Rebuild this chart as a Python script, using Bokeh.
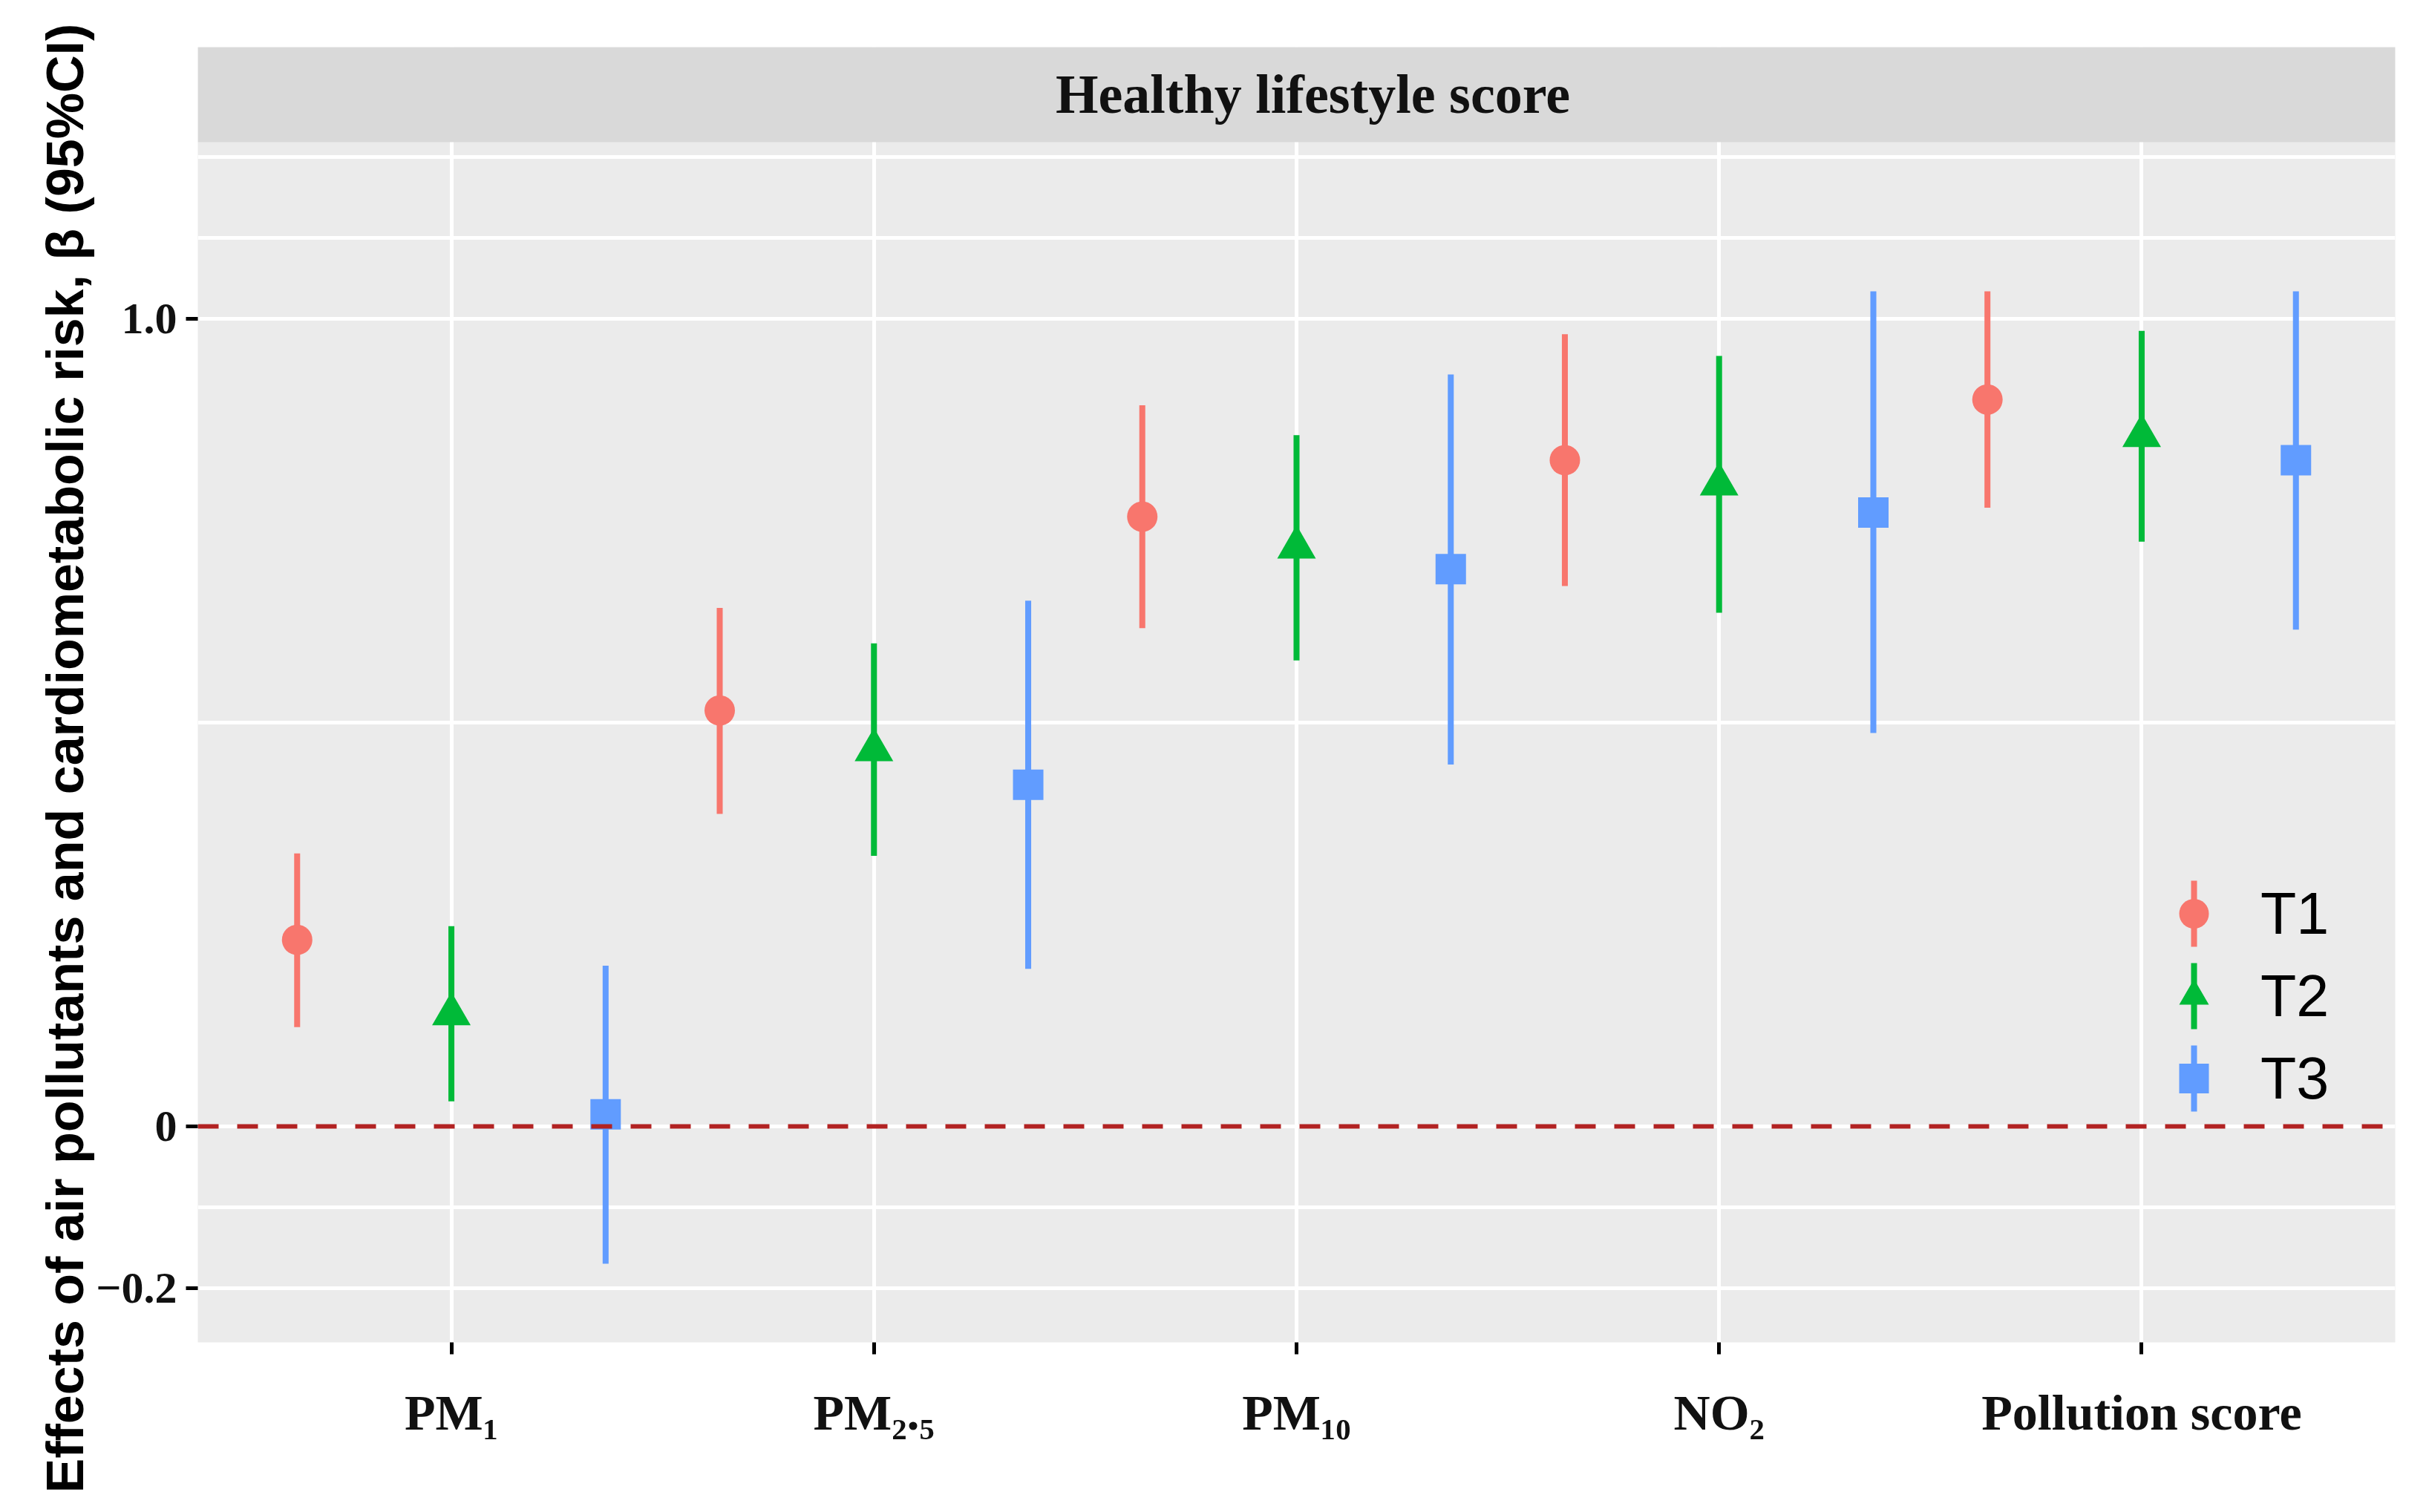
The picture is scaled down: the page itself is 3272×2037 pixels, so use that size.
from bokeh.plotting import figure
from bokeh.models import (Range1d, FixedTicker, Span, BoxAnnotation, Label,
                          Legend, LegendItem, Title, ColumnDataSource)
from bokeh.embed import file_html
from bokeh.resources import INLINE

# ---------------- data ----------------
categories = ["PM₁", "PM₂.₅", "PM₁₀", "NO₂", "Pollution score"]
groups = ["T1", "T2", "T3"]

t1_beta = [0.231, 0.515, 0.755, 0.825, 0.900]
t1_low = [0.123, 0.387, 0.617, 0.669, 0.766]
t1_high = [0.338, 0.642, 0.893, 0.981, 1.034]

t2_beta = [0.139, 0.466, 0.717, 0.795, 0.855]
t2_low = [0.031, 0.335, 0.577, 0.636, 0.724]
t2_high = [0.248, 0.598, 0.856, 0.954, 0.985]

t3_beta = [0.015, 0.423, 0.690, 0.760, 0.825]
t3_low = [-0.170, 0.195, 0.448, 0.487, 0.615]
t3_high = [0.199, 0.651, 0.931, 1.034, 1.034]

y_ticks = [-0.2, 0, 1.0]
y_tick_labels = ["−0.2", "0", "1.0"]
y_grid = [-0.2, -0.1, 0, 0.5, 1.0, 1.1, 1.2]

strip_title = "Healthy lifestyle score"
y_title = "Effects of air pollutants and cardiometabolic risk, β (95%CI)"

# ---------------- styling ----------------
colors = ["#F8766D", "#00BA38", "#619CFF"]
markers = ["circle", "triangle", "square"]
marker_sizes = [41, 52, 41]
dodge = [-0.365, 0.0, 0.365]
X_MIN, X_MAX = 0.4, 5.6
Y_MIN, PANEL_TOP, Y_MAX = -0.2675, 1.2188, 1.3364

W, H = 3256, 2020
p = figure(width=W, height=H, output_backend="svg", toolbar_location=None,
           x_range=Range1d(X_MIN, X_MAX), y_range=Range1d(Y_MIN, Y_MAX),
           min_border_left=266, min_border_right=30,
           min_border_top=63, min_border_bottom=212)
p.title.visible = False
p.background_fill_color = "#EBEBEB"
p.border_fill_color = "white"
p.outline_line_color = None

xpos = list(range(1, len(categories) + 1))

# grids
p.xgrid.ticker = FixedTicker(ticks=xpos)
p.ygrid.ticker = FixedTicker(ticks=y_grid)
for g in (p.xgrid, p.ygrid):
    g.grid_line_color = "white"
    g.grid_line_width = 5

# zero reference line
p.add_layout(Span(location=0, dimension="width", line_color="#B22222",
                  line_width=6, line_dash="28 25"))

series = [(t1_beta, t1_low, t1_high), (t2_beta, t2_low, t2_high),
          (t3_beta, t3_low, t3_high)]
bar_renderers, pt_renderers = [], []
for i, (beta, low, high) in enumerate(series):
    xs = [x + dodge[i] for x in xpos]
    src = ColumnDataSource(dict(x=xs, beta=beta, low=low, high=high))
    rb = p.vbar(x="x", top="high", bottom="low", width=0.0141, source=src,
                fill_color=colors[i], line_color=None)
    rp = p.scatter(x="x", y="beta", source=src, marker=markers[i],
                   size=marker_sizes[i], fill_color=colors[i], line_color=None)
    bar_renderers.append(rb)
    pt_renderers.append(rp)

# axes
xa = p.xaxis[0]
xa.ticker = FixedTicker(ticks=xpos)
xa.major_label_overrides = {x: c for x, c in zip(xpos, categories)}
ya = p.yaxis[0]
ya.ticker = FixedTicker(ticks=y_ticks)
ya.major_label_overrides = {t: l for t, l in zip(y_ticks, y_tick_labels)}
for ax in (xa, ya):
    ax.axis_line_color = None
    ax.minor_tick_line_color = None
    ax.major_tick_line_color = "black"
    ax.major_tick_line_width = 5
    ax.major_tick_out = 16
    ax.major_tick_in = 0
    ax.major_label_text_font = "Liberation Serif"
    ax.major_label_text_font_style = "bold"
    ax.major_label_text_color = "#111111"
xa.major_label_text_font_size = "68px"
xa.major_label_standoff = 40
ya.major_label_text_font_size = "60px"
ya.major_label_standoff = 12

# y axis title (as side title so it can be offset like the original)
p.add_layout(Title(text=y_title, align="left", offset=-203,
                   text_font="Liberation Sans", text_font_style="bold",
                   text_font_size="70px", text_color="black", standoff=0), "left")

# facet strip
p.add_layout(BoxAnnotation(bottom=PANEL_TOP, fill_color="#D9D9D9", fill_alpha=1.0,
                           line_alpha=0))
p.add_layout(Label(x=(X_MIN + X_MAX) / 2, y=(PANEL_TOP + Y_MAX) / 2, text=strip_title,
                   x_offset=22, text_align="center", text_baseline="middle",
                   text_font="Liberation Serif", text_font_style="bold",
                   text_font_size="74px", text_color="#111111"))

# legends: one for the vertical interval keys, one for markers + labels
ROW = 111
leg_bottom = 300
key_center = 2689
legA = Legend(items=[LegendItem(label="", renderers=[r]) for r in bar_renderers],
              location=(key_center - 5, leg_bottom), glyph_width=10, glyph_height=ROW,
              label_height=ROW, label_width=0, spacing=0, padding=0, margin=0,
              background_fill_alpha=0, border_line_alpha=0, label_standoff=0)
legB = Legend(items=[LegendItem(label=g, renderers=[r]) for g, r in zip(groups, pt_renderers)],
              location=(key_center - 50, leg_bottom), glyph_width=100, glyph_height=ROW,
              label_height=ROW, spacing=0, padding=0, margin=0,
              background_fill_alpha=0, border_line_alpha=0, label_standoff=40,
              label_text_font="Liberation Sans", label_text_font_size="79px",
              label_text_color="black")
p.add_layout(legA, "center")
p.add_layout(legB, "center")

open("out.html", "w").write(file_html(p, INLINE))
